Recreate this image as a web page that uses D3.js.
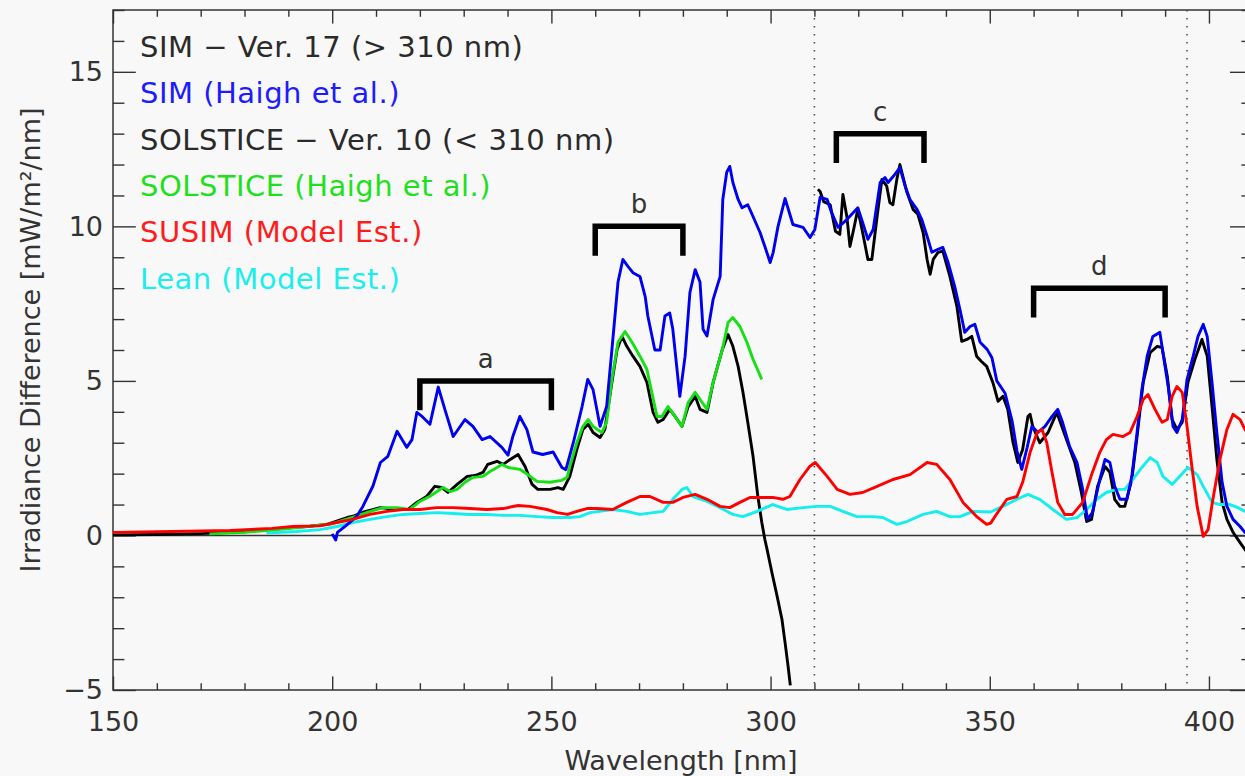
<!DOCTYPE html>
<html>
<head>
<meta charset="utf-8">
<script src="https://cdn.jsdelivr.net/npm/d3@7"></script>
<style>
  body { margin: 0; background: #f8f8f8; }
  #graph_box { width: 1245px; height: 776px; overflow: hidden; }
  text { font-family: "DejaVu Sans", sans-serif; fill: #333; }
</style>
</head>
<body>
<div id="graph_box"></div>
<script>
// irradiance difference curves, [wavelength nm, mW/m^2/nm]
const simHaigh = [[200,0.05],[200.8,-0.15],[201.2,0.1],[203,0.3],[205.5,0.6],[207,0.94],[209.3,1.6],[211,2.36],[212.7,2.56],[214.8,3.37],[217,2.85],[218.2,3.1],[219.3,3.98],[220.5,3.85],[222.3,3.6],[224.2,4.8],[225.7,4.08],[227.6,3.2],[230.3,3.75],[232.1,3.53],[234.2,3.1],[236,3.2],[238.7,2.85],[240.1,2.6],[241.2,3.2],[242.8,3.85],[244.4,3.43],[245.8,2.7],[248,2.62],[250.4,2.7],[252.4,2.2],[253.3,2.13],[255,3.0],[257,4.17],[258.3,5.05],[259.5,4.72],[261.1,3.53],[262.6,4.17],[263.8,6.0],[265.2,8.2],[266.3,8.93],[267.5,8.7],[268.6,8.5],[270.2,8.38],[271.4,7.73],[272,7.1],[273.6,6.0],[274.8,6.0],[275.9,7.1],[277,7.2],[277.7,6.67],[279.3,4.5],[280.5,5.8],[281.6,7.86],[282.8,8.6],[283.9,8.2],[284.6,6.67],[285.5,6.45],[286.9,7.64],[288.5,8.38],[289.1,10.87],[290,11.75],[290.7,11.94],[291.4,11.42],[292.6,10.87],[293.5,10.6],[294.8,10.7],[296,10.32],[297.6,9.8],[298.7,9.35],[299.9,8.83],[300.6,9.16],[301.7,10.0],[303.3,10.9],[305.1,10.06],[307.4,9.97],[309,9.64],[310.1,9.9],[311.3,10.94],[312.9,10.87],[313.9,10.45],[315.4,9.97],[317.4,10.22],[319.9,10.6],[321,10.13],[322.2,9.58],[323.4,9.9],[325,11.42],[326.1,11.58],[326.8,11.42],[328,11.62],[329.5,11.9],[330.7,11.3],[331.8,10.87],[333.4,10.55],[334.5,10.22],[335.7,9.68],[336.8,9.16],[338.2,9.26],[339.3,9.32],[340.5,8.83],[342,8.06],[343.2,7.31],[344.3,6.57],[345.5,6.76],[346.6,6.83],[347.8,6.25],[349.4,6.02],[350.5,5.75],[351.6,5.0],[353.5,4.6],[355.1,3.7],[356.2,2.74],[357.3,2.14],[358.5,2.83],[359.6,3.53],[361,3.33],[362.6,3.53],[364.2,3.85],[365.5,4.08],[366.6,3.66],[368.2,2.88],[369.9,2.36],[371.2,1.49],[372.3,0.52],[373.4,0.74],[375.1,1.81],[376.3,2.46],[377.4,2.36],[378.5,1.59],[379.7,1.17],[381.3,1.17],[382.4,1.91],[383.6,3.33],[384.7,4.72],[385.9,5.8],[387.2,6.44],[388.8,6.57],[389.5,5.92],[390.7,4.82],[391.8,3.53],[392.7,3.33],[393.9,3.75],[395,5.05],[396.4,5.8],[397.5,6.44],[398.7,6.83],[399.6,6.44],[400.7,4.95],[401.8,3.33],[403,1.72],[404.1,0.94],[405.5,0.52],[407.1,0.29],[408.2,0.1],[410,-0.1]];

const simV17 = [[310.8,11.2],[311.3,11.13],[312.1,10.8],[313.6,10.7],[314.8,9.84],[315.8,9.74],[316.5,11.03],[317.4,10.32],[318.1,9.35],[318.8,9.8],[319.9,10.55],[321,9.8],[322.2,8.93],[323.1,8.93],[324.3,10.32],[325.4,11.52],[326.5,11.3],[327.2,10.77],[327.9,10.7],[328.8,11.52],[329.5,12.0],[331.1,11.1],[332.5,10.55],[333.6,10.39],[334.8,9.8],[335.7,8.93],[336.4,8.45],[337.1,8.93],[338.2,9.16],[339.3,9.2],[340.9,8.38],[342.5,7.41],[343.6,6.28],[344.8,6.34],[345.9,6.44],[347,5.8],[348.1,5.63],[349.3,5.47],[350.7,4.95],[351.9,4.34],[353,4.5],[354.1,4.08],[355.3,3.01],[356.4,2.36],[357.5,2.78],[358.7,3.85],[359.2,3.92],[359.8,3.53],[361.4,3.0],[363.3,3.33],[365.3,3.98],[367.5,3.1],[369.4,2.36],[370.9,1.39],[372.1,0.45],[373.2,0.52],[374.6,1.59],[376.3,2.23],[377.4,2.04],[378.5,1.17],[379.7,0.94],[380.8,0.94],[382.4,1.81],[383.6,3.2],[385,4.95],[386.6,5.92],[388.2,6.12],[389.3,6.08],[390.5,5.15],[391.6,3.75],[392.7,3.43],[393.9,3.66],[395.2,4.95],[396.8,5.7],[398.4,6.34],[399.6,5.8],[400.7,4.17],[401.8,2.46],[403,1.07],[404.1,0.52],[405.5,0.1],[407.1,-0.23],[408.2,-0.45],[410,-0.8]];

const solsticeV10 = [[150,0.02],[160,0.03],[170,0.06],[180,0.12],[190,0.25],[195,0.3],[198.8,0.36],[200.2,0.42],[203.4,0.58],[204.7,0.62],[207,0.75],[210.9,0.9],[214.8,0.84],[217.3,0.84],[219.3,1.07],[221.6,1.27],[223.4,1.59],[225,1.55],[226.4,1.39],[228.5,1.65],[230.8,1.91],[232.6,1.94],[234.4,2.04],[235.5,2.3],[237.6,2.4],[239,2.3],[240.6,2.46],[242.4,2.62],[244,2.23],[245.6,1.65],[246.9,1.49],[249.7,1.49],[251.5,1.55],[252.7,1.49],[254.2,1.91],[255.8,2.78],[257.2,3.43],[258.4,3.6],[259.5,3.33],[261.1,3.17],[262.2,3.43],[263.8,4.95],[265,6.02],[266.1,6.44],[267.2,6.12],[268.6,5.8],[270.2,5.47],[271.8,4.95],[273.2,3.98],[274.3,3.66],[275.5,3.75],[277,4.08],[278.2,3.85],[279.8,3.53],[281.2,4.17],[282.8,4.5],[283.9,4.08],[285.5,3.98],[286.9,4.95],[289,6.02],[290.3,6.5],[291.4,6.12],[292.6,5.47],[293.7,4.63],[294.8,3.66],[296,2.56],[297.1,1.26],[298,0.42],[298.7,-0.13],[299.2,-0.45],[300.3,-1.2],[301.5,-1.97],[302.6,-2.72],[303.3,-3.46],[304,-4.24],[304.5,-4.85]];

const solsticeHaigh = [[172,0.05],[180,0.1],[190,0.22],[200,0.38],[205,0.6],[208,0.75],[211.6,0.9],[214.8,0.9],[217.7,0.84],[220,1.1],[222.3,1.27],[223.9,1.42],[225.3,1.55],[226.9,1.42],[228.5,1.49],[230.3,1.72],[232.1,1.88],[234.4,1.91],[236,2.07],[237.6,2.2],[238.7,2.3],[240.1,2.2],[242.8,2.14],[244.6,1.97],[246.7,1.75],[249.7,1.72],[252.3,1.78],[253.6,1.88],[254.2,2.23],[255.8,3.0],[257.2,3.53],[258.4,3.75],[259.5,3.53],[261.5,3.33],[262.6,3.66],[263.8,5.05],[265.2,6.25],[266.8,6.6],[268.4,6.25],[270.2,5.8],[271.8,5.37],[272.9,4.63],[274.1,3.85],[275.2,3.85],[276.6,4.17],[278.2,3.85],[279.8,3.53],[281.2,4.3],[282.8,4.63],[284.4,4.3],[285.5,4.08],[286.9,4.95],[289,6.02],[290.3,6.89],[291.4,7.05],[293,6.76],[294.6,6.25],[296,5.7],[298,5.05]];

const susim = [[150,0.1],[163.5,0.13],[176.7,0.16],[186.3,0.23],[191,0.29],[197.2,0.31],[201.1,0.42],[204.7,0.52],[208.6,0.68],[212.5,0.78],[216.1,0.84],[220,0.84],[223.9,0.9],[227.6,0.9],[231.4,0.87],[235.3,0.84],[239,0.87],[242.4,0.97],[245.1,0.94],[249,0.84],[251.3,0.74],[253.7,0.68],[255.8,0.78],[258.1,0.87],[260.4,0.87],[264,0.84],[267.2,1.07],[270.2,1.26],[272.5,1.26],[275.5,1.07],[277.7,1.07],[280,1.23],[282.8,1.33],[285.5,1.17],[288.5,0.94],[290.7,0.9],[293,1.07],[295.3,1.23],[300.5,1.23],[302.8,1.17],[304.4,1.26],[306.7,1.81],[308.9,2.23],[310.2,2.36],[312.9,1.91],[315.2,1.49],[318.1,1.33],[321,1.39],[324.3,1.59],[327.9,1.81],[331.8,1.97],[335.7,2.36],[337.9,2.3],[340.9,1.81],[343.9,1.07],[347,0.61],[349.3,0.36],[350.2,0.4],[351.6,0.7],[353.9,1.17],[356.2,1.26],[357.5,1.72],[359.2,2.69],[360.8,3.33],[361.9,3.43],[363,3.01],[364.2,2.04],[365.5,1.07],[367.1,0.68],[368.9,0.68],[371.2,1.07],[373.4,2.04],[375.1,2.69],[376.6,3.1],[378.1,3.27],[380.4,3.2],[382,3.33],[383.6,3.85],[385,4.4],[386.1,4.56],[387.7,4.08],[389.3,3.66],[390.5,3.75],[391.6,4.5],[392.7,4.82],[393.9,4.63],[395,3.53],[396.1,2.23],[397.3,0.94],[398.7,-0.03],[399.8,0.19],[400.9,1.17],[402.5,2.46],[404.1,3.43],[405.5,3.92],[407.1,3.75],[408.2,3.43],[410,3.1]];

const lean = [[185,0.08],[192,0.13],[197.2,0.19],[201.1,0.29],[204.7,0.42],[208.6,0.52],[212.5,0.61],[216.1,0.68],[220,0.71],[223.9,0.74],[227.6,0.71],[231.4,0.68],[235.3,0.68],[239,0.65],[242.8,0.65],[246.7,0.61],[250.4,0.58],[254.2,0.58],[256.5,0.61],[258.8,0.74],[264,0.84],[267.2,0.78],[270.2,0.68],[273.2,0.74],[275.5,0.78],[277.7,1.17],[279.8,1.49],[280.9,1.55],[282.3,1.26],[285.5,1.1],[288.5,0.9],[291.4,0.68],[293.7,0.61],[296.9,0.78],[300.5,1.0],[303.7,0.84],[307.4,0.9],[310.5,0.94],[313.6,0.94],[316.5,0.78],[319.7,0.61],[323.4,0.61],[325.6,0.58],[328.8,0.36],[331.1,0.45],[334.8,0.68],[337.9,0.78],[340.9,0.61],[343.2,0.61],[346.2,0.78],[350.2,0.76],[353,0.94],[356.2,1.17],[358.7,1.33],[361.4,1.17],[364.4,0.84],[367.5,0.52],[369.9,0.58],[372.1,0.84],[374.4,1.17],[376.6,1.39],[378.9,1.49],[380.8,1.49],[382.6,1.81],[384.7,2.2],[386.6,2.52],[388.2,2.36],[389.5,1.91],[391.6,1.65],[393.3,1.91],[395.2,2.2],[397.3,1.97],[398.7,1.59],[400.7,1.07],[402.5,1.0],[404.8,1.0],[406.6,0.9],[408.2,0.78],[410,0.7]];

// legend entries, top to bottom
const legendLabels = ["SIM \u2212 Ver. 17 (> 310 nm)", "SIM (Haigh et al.)", "SOLSTICE \u2212 Ver. 10 (< 310 nm)", "SOLSTICE (Haigh et al.)", "SUSIM (Model Est.)", "Lean (Model Est.)"];
const legendColors = ["#2a2a2a", "#1c1cff", "#2a2a2a", "#1ee01e", "#ff1c1c", "#1ceeee"];

// wavelength bands a-d: [label, start nm, end nm, level]
const bands = [["a", 220, 250, 5], ["b", 260, 280, 10], ["c", 315, 335, 13], ["d", 360, 390, 8]];

const xMajor = [150, 200, 250, 300, 350, 400];
const yMajor = [-5, 0, 5, 10, 15];
const dottedAt = [310, 395];

const margin = { top: 10, left: 113 },
    width = 1139.8,
    height = 680;

const svg = d3.select("#graph_box")
    .append("svg")
    .attr("width", 1245)
    .attr("height", 776)
    .style("background", "#f8f8f8");

const g = svg.append("g")
    .attr("transform", `translate(${margin.left},${margin.top})`);

const x = d3.scaleLinear().domain([150, 410]).range([0, width]);
const y = d3.scaleLinear().domain([-5, 17]).range([height, 0]);

// IDL style ticks: 2% of the plot size, minor ones half that
const xTick = 0.02 * height, yTick = 0.02 * width;
const xMinor = d3.range(150, 411, 10).filter(v => xMajor.indexOf(v) < 0);
const yMinor = d3.range(-5, 18, 1).filter(v => yMajor.indexOf(v) < 0);

function styleAxis(sel) {
    sel.select(".domain").remove();
    sel.selectAll("line").attr("stroke", "#333").attr("stroke-width", 1.4);
    sel.selectAll("text").style("font-size", "27px").attr("fill", "#333");
}

g.append("g").attr("transform", `translate(0,${height})`)
    .call(d3.axisBottom(x).tickValues(xMajor).tickSize(-xTick).tickPadding(22).tickFormat(d3.format("d")))
    .call(styleAxis);
g.append("g").attr("transform", `translate(0,${height})`)
    .call(d3.axisBottom(x).tickValues(xMinor).tickSize(-xTick / 2).tickFormat(""))
    .call(styleAxis);
g.append("g")
    .call(d3.axisTop(x).tickValues(xMajor).tickSize(-xTick).tickFormat(""))
    .call(styleAxis);
g.append("g")
    .call(d3.axisTop(x).tickValues(xMinor).tickSize(-xTick / 2).tickFormat(""))
    .call(styleAxis);

g.append("g")
    .call(d3.axisLeft(y).tickValues(yMajor).tickSize(-yTick).tickPadding(10).tickFormat(d => d < 0 ? "\u2212" + (-d) : d))
    .call(styleAxis);
g.append("g")
    .call(d3.axisLeft(y).tickValues(yMinor).tickSize(-yTick / 2).tickFormat(""))
    .call(styleAxis);
g.append("g").attr("transform", `translate(${width},0)`)
    .call(d3.axisRight(y).tickValues(yMajor).tickSize(-yTick).tickFormat(""))
    .call(styleAxis);
g.append("g").attr("transform", `translate(${width},0)`)
    .call(d3.axisRight(y).tickValues(yMinor).tickSize(-yTick / 2).tickFormat(""))
    .call(styleAxis);

// frame
g.append("rect")
    .attr("width", width).attr("height", height)
    .attr("fill", "none").attr("stroke", "#333").attr("stroke-width", 1.5);

// zero line
g.append("line")
    .attr("x1", 0).attr("x2", width)
    .attr("y1", y(0)).attr("y2", y(0))
    .attr("stroke", "#333").attr("stroke-width", 1.5);

// dotted markers
g.selectAll(".dotline").data(dottedAt).enter()
    .append("line")
    .attr("class", "dotline")
    .attr("x1", d => x(d)).attr("x2", d => x(d))
    .attr("y1", 0).attr("y2", height)
    .attr("stroke", "#444").attr("stroke-width", 1.5)
    .attr("stroke-dasharray", "1.5,6.5");

g.append("clipPath").attr("id", "plotclip")
    .append("rect").attr("width", width).attr("height", height);

const line = d3.line().x(d => x(d[0])).y(d => y(d[1]));

const series = [
    { data: solsticeV10, color: "#000" },
    { data: simV17, color: "#000" },
    { data: lean, color: "#14eeee" },
    { data: solsticeHaigh, color: "#14e014" },
    { data: simHaigh, color: "#0000f0" },
    { data: susim, color: "#ff0000" }
];

g.append("g").attr("clip-path", "url(#plotclip)")
    .selectAll("path").data(series).enter()
    .append("path")
    .attr("d", d => line(d.data))
    .attr("fill", "none")
    .attr("stroke", d => d.color)
    .attr("stroke-width", 2.9)
    .attr("stroke-linejoin", "round");

// brackets a-d
g.selectAll(".bracket").data(bands).enter()
    .append("path")
    .attr("class", "bracket")
    .attr("d", d => `M${x(d[1])},${y(d[3] - 0.95)}V${y(d[3])}H${x(d[2])}V${y(d[3] - 0.95)}`)
    .attr("fill", "none")
    .attr("stroke", "#000")
    .attr("stroke-width", 5.5);

g.selectAll(".bandlabel").data(bands).enter()
    .append("text")
    .attr("class", "bandlabel")
    .attr("x", d => x((d[1] + d[2]) / 2))
    .attr("y", d => y(d[3]) - 13)
    .attr("text-anchor", "middle")
    .style("font-size", "26px")
    .text(d => d[0]);

// legend
svg.selectAll(".legend").data(legendLabels).enter()
    .append("text")
    .attr("class", "legend")
    .attr("x", 140)
    .attr("y", (d, i) => 57 + i * 46.3)
    .style("font-size", "29px")
    .style("letter-spacing", "0.5px")
    .style("fill", (d, i) => legendColors[i])
    .text(d => d);

// axis titles
svg.append("text")
    .attr("transform", `translate(40,${margin.top + height / 2 - 10}) rotate(-90)`)
    .attr("text-anchor", "middle")
    .style("font-size", "27px")
    .text("Irradiance Difference [mW/m\u00b2/nm]");

svg.append("text")
    .attr("x", 681)
    .attr("y", 770)
    .attr("text-anchor", "middle")
    .style("font-size", "27px")
    .text("Wavelength [nm]");
</script>
</body>
</html>
